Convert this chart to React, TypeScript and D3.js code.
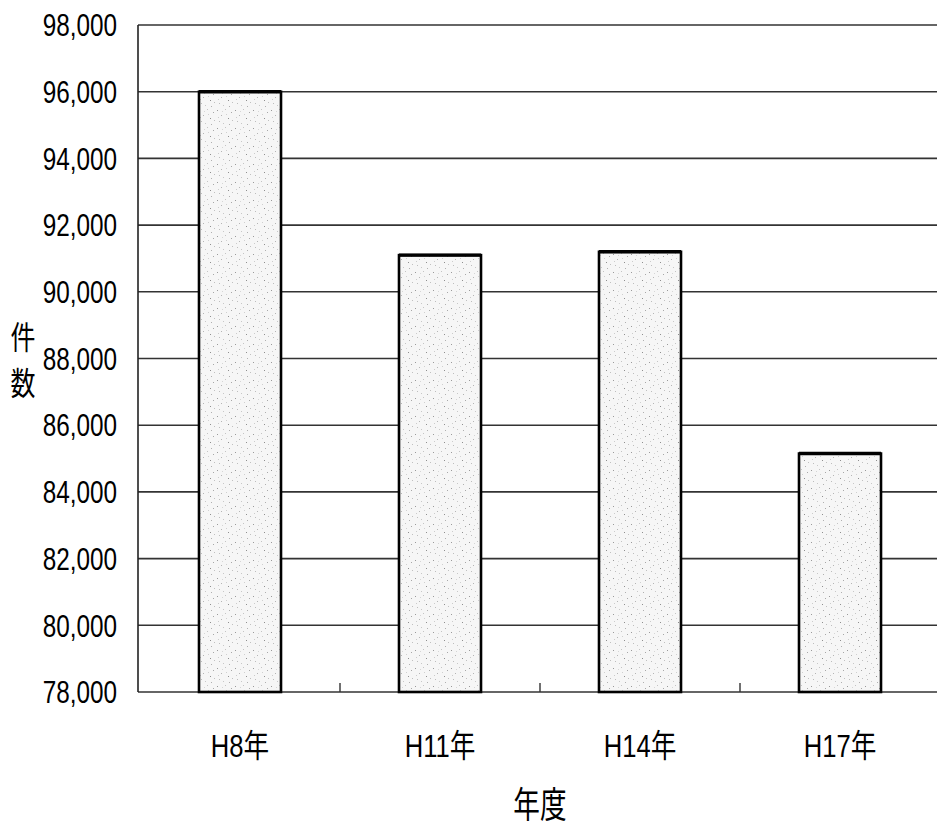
import React from "react";
import * as d3 from "d3";

const categories = ["H8年", "H11年", "H14年", "H17年"];
const values = [96000, 91100, 91200, 85150];
const yTicks = [78000, 80000, 82000, 84000, 86000, 88000, 90000, 92000, 94000, 96000, 98000];
const yTitle = ["件", "数"];
const xTitle = "年度";

const W = 937;
const H = 827;
const left = 138;
const right = 940;
const top = 25;
const bottom = 692;

const dots: [number, number, string][] = [
  [1, 2, "#9a9a9a"], [5, 7, "#b5b5b5"], [9, 1, "#c4c4c4"], [12, 10, "#8f8f8f"],
  [3, 13, "#bdbdbd"], [15, 4, "#a8a8a8"], [7, 15, "#c8c8c8"], [13, 16, "#b0b0b0"],
  [16, 12, "#c0c0c0"], [10, 6, "#d0d0d0"], [2, 9, "#cccccc"], [6, 3, "#d6d6d6"],
];

export default function App() {
  const y = d3.scaleLinear().domain([78000, 98000]).range([bottom, top]);
  const x = d3.scaleBand<string>().domain(categories).range([140, right]).padding(0);
  const barW = x.bandwidth() * 0.41;
  const fontNum = "'Liberation Sans', Arial, 'Noto Sans CJK JP', sans-serif";
  const fontCJK = "'Noto Sans CJK JP', sans-serif";
  const fmt = d3.format(",");
  const boundaries = categories.slice(1).map((c) => x(c) as number);

  return (
    <svg width={W} height={H} style={{ position: "absolute", left: 0, top: 0, background: "#fff" }}>
      <defs>
        <pattern id="stipple" width={18} height={18} patternUnits="userSpaceOnUse">
          <rect width={18} height={18} fill="#f6f6f6" />
          {dots.map(([dx, dy, c], i) => (
            <rect key={i} x={dx} y={dy} width={1} height={1} fill={c} />
          ))}
        </pattern>
      </defs>
      <rect width={W} height={H} fill="#fff" />
      {/* gridlines */}
      {yTicks.map((t) => (
        <line key={t} x1={left} x2={right} y1={y(t)} y2={y(t)} stroke="#333" strokeWidth={1.6} />
      ))}
      {/* left axis */}
      <line x1={left} x2={left} y1={top} y2={bottom} stroke="#222" strokeWidth={1.6} />
      {/* x ticks (upward) */}
      {boundaries.map((b, i) => (
        <line key={i} x1={b} x2={b} y1={bottom} y2={bottom - 9} stroke="#333" strokeWidth={1.4} />
      ))}
      {/* bars */}
      {categories.map((c, i) => {
        const cx = (x(c) as number) + x.bandwidth() / 2;
        return (
          <g key={c}>
            <rect
              x={cx - barW / 2}
              y={y(values[i])}
              width={barW}
              height={bottom - y(values[i])}
              fill="url(#stipple)"
              stroke="#000"
              strokeWidth={2.6}
            />
            <line x1={cx - barW / 2} x2={cx + barW / 2} y1={y(values[i])} y2={y(values[i])} stroke="#000" strokeWidth={3.4} />
          </g>
        );
      })}
      {/* y tick labels */}
      {yTicks.map((t) => (
        <text
          key={t}
          transform={`translate(117,${y(t)}) scale(0.76,1)`}
          textAnchor="end"
          dominantBaseline="central"
          fontFamily={fontNum}
          fontSize={32}
          fill="#000"
        >
          {fmt(t)}
        </text>
      ))}
      {/* x labels */}
      {categories.map((c) => (
        <text
          key={c}
          transform={`translate(${(x(c) as number) + x.bandwidth() / 2},${757}) scale(0.8,1)`}
          textAnchor="middle"
          fontFamily={fontNum}
          fontSize={32}
          fill="#000"
        >
          {c}
        </text>
      ))}
      {/* y title */}
      {yTitle.map((ch, i) => (
        <text
          key={ch}
          transform={`translate(23,${335 + i * 46}) scale(0.78,1)`}
          textAnchor="middle"
          dominantBaseline="central"
          fontFamily={fontCJK}
          fontSize={32}
          fill="#000"
        >
          {ch}
        </text>
      ))}
      {/* x title */}
      <text
        transform={`translate(540,802) scale(0.74,1)`}
        textAnchor="middle"
        dominantBaseline="central"
        fontFamily={fontCJK}
        fontSize={36}
        fill="#000"
      >
        {xTitle}
      </text>
    </svg>
  );
}
